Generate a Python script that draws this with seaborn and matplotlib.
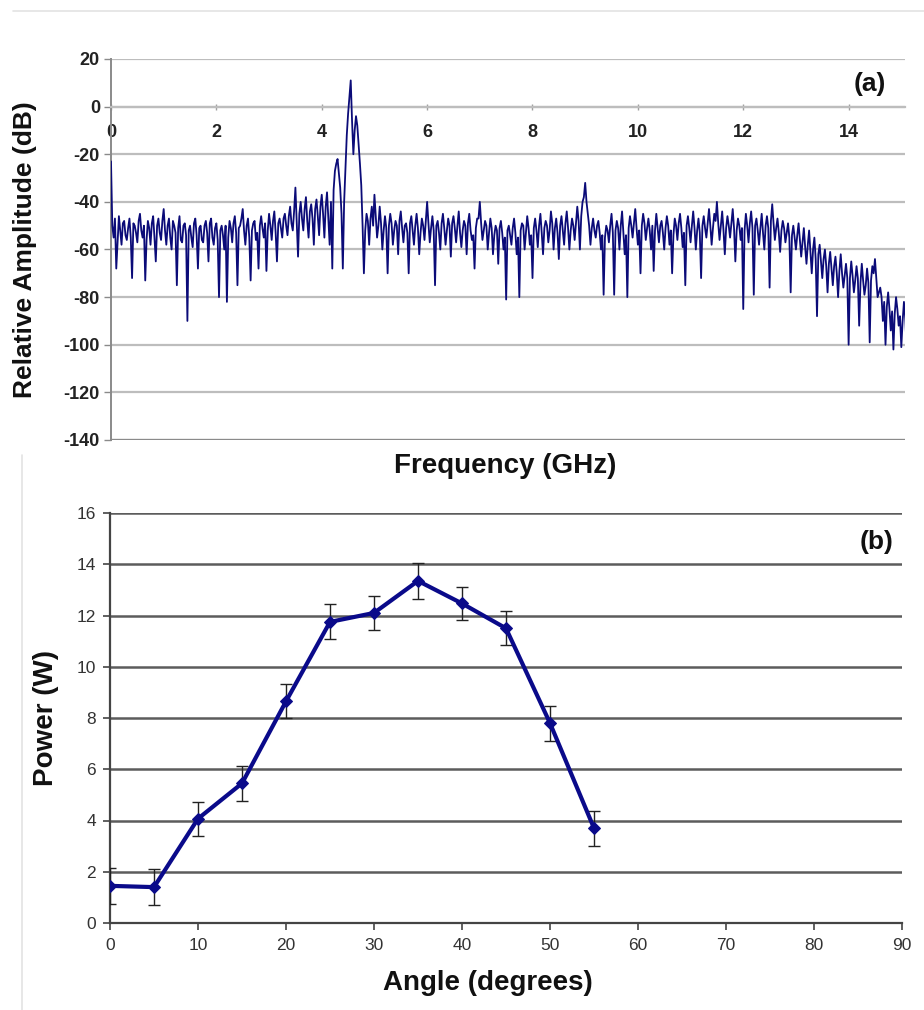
import numpy as np
import matplotlib
matplotlib.use("Agg")
import matplotlib.pyplot as plt
from matplotlib.lines import Line2D
import seaborn as sns

# ---------------- data ----------------
# (a) spectrum: values read every 0.05 GHz from 0 GHz ...
amp_db = [
    # 0.00 - 0.95
    -23, -55, -68, -46, -58, -48, -56, -47, -72, -50, -57, -45, -55, -73, -48, -58, -46, -65, -47, -56,
    # 1.00 - 1.95
    -43, -58, -47, -60, -50, -75, -46, -57, -49, -90, -50, -59, -47, -68, -50, -57, -48, -65, -47, -58,
    # 2.00 - 2.95
    -49, -80, -50, -60, -82, -48, -57, -46, -75, -50, -43, -58, -47, -73, -49, -56, -68, -46, -55, -69,
    # 3.00 - 3.95
    -45, -56, -44, -65, -47, -55, -45, -54, -42, -52, -34, -63, -40, -52, -38, -55, -41, -58, -39, -54,
    # 4.00 - 4.95
    -37, -55, -36, -58, -68, -27, -22, -34, -68, -26, -3, 11, -20, -4, -16, -33, -70, -45, -58, -42,
    # 5.00 - 5.95
    -37, -55, -42, -60, -46, -70, -45, -58, -48, -62, -44, -57, -49, -70, -46, -58, -45, -62, -47, -56,
    # 6.00 - 6.95
    -40, -57, -46, -75, -48, -60, -45, -58, -47, -63, -46, -57, -44, -59, -48, -62, -45, -56, -68, -47,
    # 7.00 - 7.95
    -40, -56, -48, -60, -47, -62, -50, -66, -48, -60, -81, -50, -58, -47, -62, -80, -49, -60, -46, -58,
    # 8.00 - 8.95
    -72, -47, -59, -45, -62, -48, -57, -44, -60, -47, -64, -46, -58, -44, -60, -47, -56, -42, -60, -40,
    # 9.00 - 9.95
    -32, -45, -58, -47, -55, -48, -60, -79, -50, -57, -45, -79, -48, -60, -44, -62, -80, -46, -55, -43,
    # 10.00 - 10.95
    -58, -70, -45, -56, -47, -60, -69, -45, -57, -48, -60, -46, -58, -70, -47, -56, -45, -59, -75, -46,
    # 11.00 - 11.95
    -57, -44, -60, -47, -72, -46, -55, -43, -58, -45, -40, -56, -44, -62, -46, -55, -43, -65, -47, -56,
    # 12.00 - 12.95
    -85, -45, -57, -44, -79, -47, -58, -45, -60, -46, -76, -41, -56, -47, -61, -48, -57, -49, -78, -50,
    # 13.00 - 13.95
    -60, -49, -63, -51, -66, -52, -70, -55, -88, -58, -72, -60, -78, -61, -75, -63, -80, -62, -76, -66,
    # 14.00 - 14.95
    -100, -65, -78, -67, -92, -66, -79, -68, -99, -67, -64, -80, -76, -90, -100, -78, -94, -102, -80, -92,
    # 15.00 - 15.10
    -101, -82, -101,
]
# ... and the values read half-way between them (0.025, 0.075, ... GHz)
amp_db_mid = [
    -50, -47, -57, -52, -49, -54, -51, -55, -49, -53, -48, -52, -50, -56, -51, -49, -55, -50, -53, -48,
    -52, -50, -55, -48, -53, -51, -56, -50, -54, -52, -55, -49, -54, -51, -56, -50, -53, -49, -55, -51,
    -56, -52, -54, -50, -55, -51, -49, -53, -51, -47, -52, -50, -55, -52, -48, -53, -50, -51, -49, -52,
    -50, -48, -53, -49, -51, -47, -50, -46, -49, -44, -48, -45, -47, -43, -48, -44, -47, -43, -46, -42,
    -45, -42, -47, -40, -35, -24, -28, -45, -40, -12, 4, -6, -10, -8, -24, -50, -52, -48, -47, -50,
    -46, -50, -49, -52, -51, -50, -49, -52, -50, -48, -51, -50, -53, -49, -52, -50, -51, -53, -50, -48,
    -49, -51, -52, -50, -53, -49, -51, -52, -50, -49, -51, -50, -53, -52, -50, -49, -52, -54, -51, -47,
    -49, -52, -50, -53, -51, -54, -52, -51, -53, -55, -52, -54, -51, -53, -55, -52, -50, -53, -51, -54,
    -51, -52, -50, -53, -51, -50, -52, -49, -51, -53, -50, -52, -49, -51, -52, -50, -49, -48, -46, -38,
    -40, -50, -51, -52, -50, -53, -54, -55, -52, -50, -53, -52, -51, -50, -53, -54, -51, -50, -49, -51,
    -52, -50, -49, -51, -52, -50, -52, -51, -50, -53, -51, -50, -52, -54, -50, -49, -51, -53, -50, -51,
    -50, -51, -52, -53, -50, -51, -49, -50, -51, -48, -49, -50, -52, -51, -50, -49, -51, -52, -50, -51,
    -52, -50, -49, -51, -50, -52, -51, -53, -50, -51, -48, -49, -51, -53, -52, -51, -53, -55, -54, -55,
    -54, -56, -57, -59, -58, -61, -60, -64, -62, -65, -64, -67, -66, -68, -67, -70, -69, -70, -71, -72,
    -72, -71, -73, -72, -74, -73, -75, -74, -73, -70, -72, -78, -80, -82, -84, -85, -86, -87, -85, -88,
    -90, -89,
]
freq_step = 0.025
amp_all = []
for i, v in enumerate(amp_db):
    amp_all.append(v)
    if i < len(amp_db_mid):
        amp_all.append(amp_db_mid[i])
freq_ghz = np.round(np.arange(len(amp_all)) * freq_step, 3)

# (b) power vs angle
angle_deg = [0, 5, 10, 15, 20, 25, 30, 35, 40, 45, 50, 55]
power_w = [1.45, 1.4, 4.07, 5.45, 8.65, 11.75, 12.1, 13.35, 12.47, 11.5, 7.8, 3.7]
power_err = [0.69, 0.69, 0.66, 0.67, 0.66, 0.68, 0.66, 0.70, 0.65, 0.66, 0.68, 0.68]

freq_ticks = [0, 2, 4, 6, 8, 10, 12, 14]
amp_ticks = [-140, -120, -100, -80, -60, -40, -20, 0, 20]
angle_ticks = [0, 10, 20, 30, 40, 50, 60, 70, 80, 90]
power_ticks = [0, 2, 4, 6, 8, 10, 12, 14, 16]

# ---------------- style ----------------
sns.set_theme(style="white")
plt.rcParams["font.family"] = ["Liberation Sans", "DejaVu Sans"]
plt.rcParams["axes.unicode_minus"] = False

W, H = 924, 1010
fig = plt.figure(figsize=(W / 100, H / 100), dpi=100)
fig.patch.set_facecolor("white")


def fx(px):
    return px / W


def fy(py):
    return 1 - py / H


# decorative thin frame lines of the original figure
fig.add_artist(Line2D([fx(13), fx(924)], [fy(11), fy(11)], color="#e3e3e3", lw=1.2))
fig.add_artist(Line2D([fx(22), fx(22)], [fy(455), fy(1010)], color="#e3e3e3", lw=1.2))

# ---------------- (a) ----------------
axL, axR, axT, axB = 111, 905, 59, 440
ax1 = fig.add_axes([fx(axL), fy(axB), (axR - axL) / W, (axB - axT) / H])
ax1.set_facecolor("white")
for yv in amp_ticks:
    ax1.axhline(yv, color="#bdbdbd", lw=1.6, zorder=0)
ax1.axhline(-140, color="#8a8a8a", lw=1.6, zorder=1)

sns.lineplot(x=freq_ghz, y=amp_all, ax=ax1, color="#0b0b78", lw=1.3, zorder=3)

ax1.set_xlim(0, 15.07)
ax1.set_ylim(-140, 20)
ax1.set_xticks(freq_ticks)
ax1.set_yticks(amp_ticks)
ax1.spines["top"].set_visible(False)
ax1.spines["right"].set_visible(False)
ax1.spines["bottom"].set_position(("data", 0))
ax1.spines["bottom"].set_color("#bdbdbd")
ax1.spines["bottom"].set_linewidth(1.6)
ax1.spines["left"].set_color("#8a8a8a")
ax1.spines["left"].set_linewidth(1.4)
ax1.tick_params(axis="x", direction="inout", length=5, width=1, color="#a0a0a0",
                pad=10, labelsize=13, labelcolor="#222222", bottom=True)
ax1.tick_params(axis="y", direction="out", length=5, width=1, color="#8a8a8a",
                pad=3, labelsize=13, labelcolor="#222222", left=True)
for lab in ax1.get_xticklabels() + ax1.get_yticklabels():
    lab.set_fontweight("bold")
ax1.set_ylabel("Relative Amplitude (dB)", fontsize=19, fontweight="bold", color="#111111")
ax1.yaxis.set_label_coords((25 - axL) / (axR - axL), 0.5)
ax1.yaxis.label.set_va("center")
ax1.set_xlabel("Frequency (GHz)", fontsize=20, fontweight="bold", color="#111111")
ax1.xaxis.set_label_coords((505 - axL) / (axR - axL), -(466 - axB) / (axB - axT))
ax1.xaxis.label.set_va("center")
ax1.text((870 - axL) / (axR - axL), (axB - 84) / (axB - axT), "(a)", transform=ax1.transAxes,
         ha="center", va="center", fontsize=19, fontweight="bold", color="#111111")

# ---------------- (b) ----------------
bL, bR, bT, bB = 110, 902, 513, 923
ax2 = fig.add_axes([fx(bL), fy(bB), (bR - bL) / W, (bB - bT) / H])
ax2.set_facecolor("white")
for yv in power_ticks[1:]:
    ax2.axhline(yv, color="#5c5c5c", lw=1.8, zorder=0)

ax2.errorbar(angle_deg, power_w, yerr=power_err, fmt="none", ecolor="#222222",
             elinewidth=1.0, capsize=4, capthick=1.0, zorder=3)
sns.lineplot(x=angle_deg, y=power_w, ax=ax2, color="#0a0a8a", lw=3.0, marker="D",
             markersize=6, markeredgecolor="#0a0a8a", zorder=4)

ax2.set_xlim(0, 90)
ax2.set_ylim(0, 16)
ax2.set_xticks(angle_ticks)
ax2.set_yticks(power_ticks)
ax2.spines["top"].set_visible(False)
ax2.spines["right"].set_visible(False)
for s in ("left", "bottom"):
    ax2.spines[s].set_color("#444444")
    ax2.spines[s].set_linewidth(1.6)
ax2.tick_params(axis="both", direction="out", length=5, width=1.2, color="#444444",
                labelsize=12.5, labelcolor="#333333", bottom=True, left=True)
ax2.tick_params(axis="x", pad=6)
ax2.tick_params(axis="y", pad=5)
ax2.set_ylabel("Power (W)", fontsize=20, fontweight="bold", color="#111111")
ax2.yaxis.set_label_coords((46 - bL) / (bR - bL), 0.5)
ax2.yaxis.label.set_va("center")
ax2.set_xlabel("Angle (degrees)", fontsize=20, fontweight="bold", color="#111111")
ax2.xaxis.set_label_coords((488 - bL) / (bR - bL), -(983 - bB) / (bB - bT))
ax2.xaxis.label.set_va("center")
ax2.text((877 - bL) / (bR - bL), (bB - 542) / (bB - bT), "(b)", transform=ax2.transAxes,
         ha="center", va="center", fontsize=19, fontweight="bold", color="#111111")

fig.savefig("out.png", dpi=100, facecolor="white")
